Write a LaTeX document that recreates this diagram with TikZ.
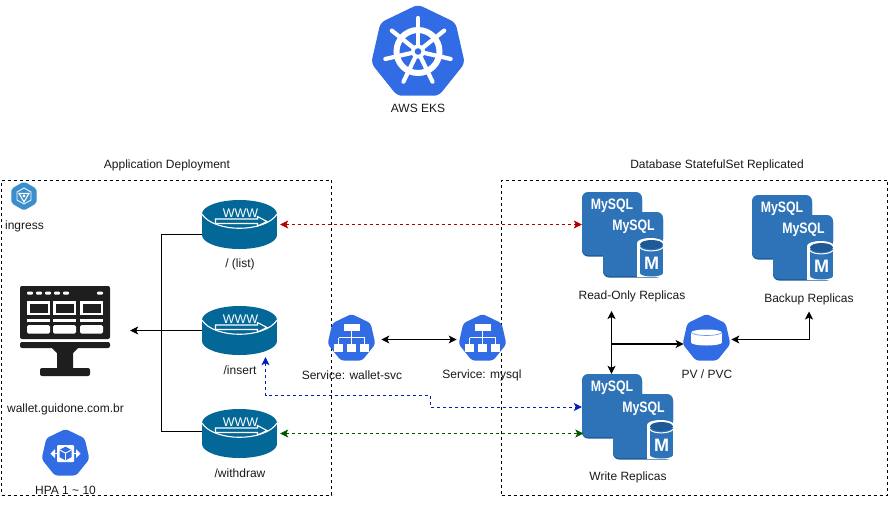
\documentclass[tikz,border=0pt]{standalone}
\usepackage{fontspec}
\setmainfont{Liberation Sans}
\usepackage{graphicx}
\usepackage{xcolor}
\usepackage{tikz}
\usetikzlibrary{arrows.meta,shapes.geometric}
\definecolor{kubeblue}{HTML}{326CE5}
\definecolor{routerblue}{HTML}{036897}
\definecolor{sqlblue}{HTML}{2E73B8}
\definecolor{sqldark}{HTML}{1F5A96}
\definecolor{ingressblue}{HTML}{3C8FCB}
\definecolor{screendark}{HTML}{1E1E1E}
\definecolor{linkred}{HTML}{B20000}
\definecolor{linkblue}{HTML}{001DBC}
\definecolor{linkgreen}{HTML}{005700}
\newcommand{\sqlword}{\scalebox{0.88}[1.08]{MySQL}}
\tikzset{
  tag/.style={font=\fontsize{12}{14}\selectfont, text=black!90, inner sep=0pt, yshift=-0.7pt},
  kube/.style={regular polygon, regular polygon sides=7, fill=kubeblue, rounded corners=3pt, minimum size=49pt, inner sep=0pt},
  routerbox/.style={minimum width=75pt, minimum height=49pt, inner sep=0pt},
  zone/.style={draw, line width=0.9pt, dash pattern=on 3pt off 3pt, inner sep=0pt},
  tipped/.style={line width=0.9pt, {Stealth[length=8pt,width=8pt,inset=2pt]}-{Stealth[length=8pt,width=8pt,inset=2pt]}},
  link/.style={tipped, dash pattern=on 3pt off 3pt, color=#1},
  pics/routericon/.style={code={
    \fill[routerblue] (-37.5,-10.5) rectangle (37.5,10.5);
    \fill[routerblue] (0,-10.5) ellipse [x radius=37.5pt, y radius=14pt];
    \fill[routerblue] (0,10.5) ellipse [x radius=37.5pt, y radius=14pt];
    \draw[white, line width=1.1pt] (-37.5,-10.5) .. controls (-32,-1) and (-15,3.8) .. (0,3.8) .. controls (15,3.8) and (32,-1) .. (37.5,-10.5);
    \draw[white, line width=1.1pt, fill=routerblue] (-24,-5.5) -- (18,-5.5) -- (18,-8) -- (27.5,-3) -- (18,1.5) -- (18,-1) -- (-24,-1) -- cycle;
    \node[text=white, inner sep=0pt, font=\fontsize{12.5}{14}\selectfont] at (1,-11.5) {WWW};
  }},
  pics/sqlicon/.style={code={
    \fill[sqldark] (0,1.5) [rounded corners=6pt] rectangle (60,64.5);
    \fill[sqldark] (#1,21.5) [rounded corners=6pt] rectangle (#1+60,85.5);
    \fill[sqlblue] (0,0) [rounded corners=6pt] rectangle (60,63);
    \fill[sqlblue] (#1,20) [rounded corners=6pt] rectangle (#1+60,84);
    \fill[white] (#1+34,51) rectangle (#1+60,85);
    \fill[white] (#1+47.5,51) ellipse [x radius=13.5pt, y radius=5pt];
    \fill[sqlblue] (#1+37,54) rectangle (#1+60,81);
    \fill[sqlblue] (#1+48.5,81) ellipse [x radius=11.5pt, y radius=3.5pt];
    \fill[sqldark] (#1+48.5,52.5) ellipse [x radius=11.5pt, y radius=4.5pt];
    \draw[white, line width=1pt] (#1+37,55.5) .. controls (#1+40,60) and (#1+56,60) .. (#1+60,55.5);
    \fill[white] (#1+60,47) rectangle (#1+62,87);
    \node[text=white, inner sep=0pt, font=\fontsize{14}{16}\bfseries\selectfont] at (30,14) {\sqlword};
    \node[text=white, inner sep=0pt, font=\fontsize{14}{16}\bfseries\selectfont] at (#1+30.5,34.7) {\sqlword};
    \node[text=white, inner sep=0pt, font=\fontsize{18}{20}\bfseries\selectfont] at (#1+48.5,71) {M};
  }},
  pics/wheelicon/.style={code={
    \draw[white, line width=6pt] (0,0) circle (21.5pt);
    \foreach \n in {0,...,6} {
      \draw[white, line width=4.2pt, line cap=round] (0,0) -- (-90+\n*51.43:33.5);
    }
    \fill[white] (0,0) circle (7pt);
    \fill[kubeblue] (0,0) circle (3.3pt);
  }},
  pics/treeicon/.style={code={
    \fill[white] (-8,-14.5) rectangle (8,-8);
    \draw[white, line width=1pt] (0,-8) -- (0,6) (-13,-1) -- (13,-1) (-13,-1) -- (-13,6) (13,-1) -- (13,6);
    \fill[white] (-17.5,5.5) rectangle (-8.5,13);
    \fill[white] (-4.5,5.5) rectangle (4.5,13);
    \fill[white] (8.5,5.5) rectangle (17.5,13);
  }},
  pics/diskicon/.style={code={
    \fill[white] (-15.5,-6) rectangle (15.5,4);
    \fill[white] (0,4) ellipse [x radius=15.5pt, y radius=3pt];
    \fill[white] (0,-6) ellipse [x radius=15.5pt, y radius=3pt];
    \draw[kubeblue!70, line width=0.7pt] (-15.5,-6) .. controls (-12,-2) and (12,-2) .. (15.5,-6);
  }},
  pics/boxicon/.style={code={
    \fill[white, rounded corners=1pt] (-8.5,-8.5) rectangle (8.5,8.5);
    \fill[kubeblue] (0,-6.8) -- (6,-3.6) -- (6,3.6) -- (0,6.8) -- (-6,3.6) -- (-6,-3.6) -- cycle;
    \draw[white, line width=0.9pt] (-6,-3.6) -- (0,-0.4) -- (6,-3.6) (0,-0.4) -- (0,6.8);
    \fill[white] (-15,0) -- (-10.5,-4.5) -- (-10.5,4.5) -- cycle;
    \fill[white] (15,0) -- (10.5,-4.5) -- (10.5,4.5) -- cycle;
    \draw[white, line width=1.2pt] (-11,0) -- (-8,0) (11,0) -- (8,0);
  }},
  pics/badgeicon/.style={code={
    \draw[white, line width=0.8pt] (0,-8) -- (7,-4) -- (7,4) -- (0,8) -- (-7,4) -- (-7,-4) -- cycle;
    \draw[white, line width=1.1pt] (-5,-2.5) -- (5,-2.5) -- (0,6) -- cycle;
    \fill[white] (0,0) circle (1.6pt);
  }},
  pics/screenicon/.style={code={
    \fill[screendark, rounded corners=2pt] (0,0) rectangle (90,53);
    \fill[screendark, rounded corners=2pt] (0,56) rectangle (90,62);
    \fill[screendark] (32,60) -- (58,60) -- (58,62) -- (53,67) -- (53,83) -- (37,83) -- (37,67) -- (32,62) -- cycle;
    \fill[screendark, rounded corners=2pt] (20,82) rectangle (70,90);
    \foreach \x in {10,19,28,37,46,80} {
      \fill[white, rounded corners=1pt] (\x-3,5.5) rectangle (\x+3,8.5);
    }
    \foreach \x in {7,33,60} {
      \fill[white] (\x,15) rectangle (\x+23,29);
      \fill[screendark] (\x+2.5,17.5) rectangle (\x+20.5,26.5);
      \fill[white] (\x,33) rectangle (\x+23,36);
      \fill[white, rounded corners=1.5pt] (\x,39) rectangle (\x+23,47.5);
    }
  }}
}
\begin{document}
\begin{tikzpicture}[x=1pt, y=-1pt]
\useasboundingbox (0,0) rectangle (895,507);
% zones
\node[zone, minimum width=330pt, minimum height=315pt] (appzone) at (166.5,337.5) {};
\node[zone, minimum width=386pt, minimum height=315pt] (dbzone) at (694.5,337.5) {};
\node[tag] (apptitle) at (167,165) {Application Deployment};
\node[tag] (dbtitle) at (717,165) {Database StatefulSet Replicated};
% cluster
\node[kube, minimum size=96pt, rounded corners=5pt] (eks) at (418,52.5) {};
\pic at (418,51.5) {wheelicon};
\node[tag] (ekstag) at (418,108) {AWS EKS};
% ingress
\node[regular polygon, regular polygon sides=6, shape border rotate=30, fill=ingressblue, rounded corners=2pt, minimum size=29pt, inner sep=0pt] (ingress) at (24,196) {};
\pic at (24,196) {badgeicon};
\node[tag] (ingresstag) at (24.5,226) {ingress};
% routes
\node[routerbox] (list) at (239.5,224.5) {};
\node[routerbox] (insert) at (239.5,330.5) {};
\node[routerbox] (withdraw) at (239.5,433.5) {};
\pic at (list) {routericon};
\pic at (insert) {routericon};
\pic at (withdraw) {routericon};
\node[tag] (listtag) at (240,264) {/ (list)};
\node[tag] (inserttag) at (240,370) {/insert};
\node[tag] (withdrawtag) at (240,473) {/withdraw};
% site
\node[minimum width=90pt, minimum height=90pt, inner sep=0pt] (wallet) at (65,331) {};
\pic at (20,286) {screenicon};
\node[tag] (wallettag) at (65.5,409) {wallet.guidone.com.br};
\node[kube] (hpa) at (65.5,453.5) {};
\pic at (hpa) {boxicon};
\node[tag] (hpatag) at (65.5,490) {HPA 1 \textasciitilde{} 10};
% services
\node[kube] (walletsvc) at (351.5,338.5) {};
\node[kube] (mysqlsvc) at (482.5,338.5) {};
\pic at (walletsvc) {treeicon};
\pic at (mysqlsvc) {treeicon};
\node[tag] (walletsvctag) at (352,375) {Service: wallet-svc};
\node[tag] (mysqlsvctag) at (482,375) {Service: mysql};
% databases
\node[minimum width=81pt, minimum height=84pt, inner sep=0pt] (read) at (622.5,234) {};
\node[minimum width=81pt, minimum height=84pt, inner sep=0pt] (backup) at (792.5,237) {};
\node[minimum width=91pt, minimum height=84pt, inner sep=0pt] (write) at (627.5,416) {};
\pic at (582,192) {sqlicon=21};
\pic at (752,195) {sqlicon=21};
\pic at (582,374) {sqlicon=31};
\node[tag] (readtag) at (632,296) {Read-Only Replicas};
\node[tag] (backuptag) at (809,299) {Backup Replicas};
\node[tag] (writetag) at (628,477) {Write Replicas};
\node[kube] (pv) at (706.5,338.5) {};
\pic at (pv) {diskicon};
\node[tag] (pvtag) at (707,374) {PV / PVC};
% connectors
\draw[line width=0.9pt] ([yshift=-9.5pt]list.west) -- ++(-40,0) |- ([yshift=2.5pt]withdraw.west);
\draw[line width=0.9pt, -{Stealth[length=8pt,width=8pt,inset=2pt]}, shorten >=20pt] (insert.west) -- (insert.west -| wallet.east);
\draw[link=linkred, shorten <=3pt] (list.east) -- (list.east -| read.west);
\coordinate (bendA) at (430.5,395.5);
\coordinate (bendB) at (430.5,407);
\draw[link=linkblue] ([xshift=26pt,yshift=-2pt]insert.south) |- (bendA) -- (bendB) -- (bendB -| write.west);
\draw[link=linkgreen, shorten <=3pt, shorten >=-1.5pt] (withdraw.east) -- (withdraw.east -| write.west);
\draw[tipped, shorten <=7pt, shorten >=3pt] ([yshift=-1pt]walletsvc.east) -- ([yshift=-1pt]mysqlsvc.west);
\coordinate (readdrop) at (611.5,311);
\draw[tipped] (readdrop) -- (readdrop |- write.north);
\draw[line width=1.2pt, -{Stealth[length=8pt,width=8pt,inset=2pt]}] (readdrop |- 0,344) -- ([yshift=-5.5pt]pv.west);
\draw[tipped, shorten >=6pt, shorten <=2pt] ([yshift=-1pt]pv.east) -| (backuptag.south);
\end{tikzpicture}
\end{document}
